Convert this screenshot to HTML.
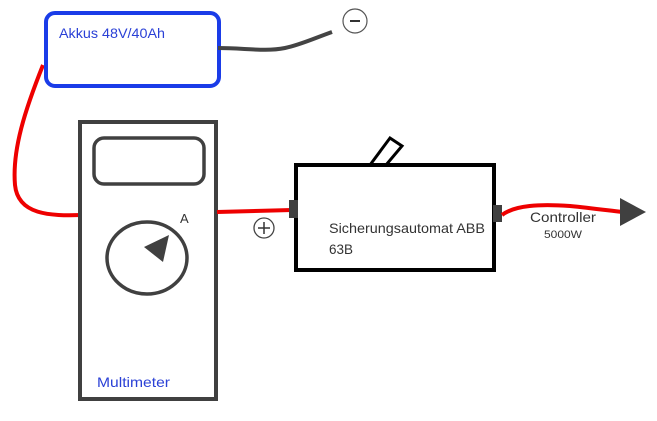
<!DOCTYPE html>
<html><head><meta charset="utf-8"><style>
html,body{margin:0;padding:0;background:#fff;}
svg{display:block;}
text{font-family:"Liberation Sans",sans-serif;}
</style></head><body>
<svg width="657" height="421" viewBox="0 0 657 421" xmlns="http://www.w3.org/2000/svg">
<rect x="0" y="0" width="657" height="421" fill="#fff"/>
<path d="M43,65 C25,110 12,150 15,185 C18,215 50,216 82,215" fill="none" stroke="#ee0000" stroke-width="4"/>
<rect x="46" y="13" width="173" height="73" rx="9" fill="#fff" stroke="#1a3ce8" stroke-width="4"/>
<text x="59" y="38" font-size="14" fill="#2a40d6" textLength="106" lengthAdjust="spacingAndGlyphs">Akkus 48V/40Ah</text>
<path d="M218,48 C245,48 265,52 285,48 C300,45 315,38 332,32" fill="none" stroke="#444" stroke-width="4"/>
<circle cx="355" cy="21" r="12" fill="#fff" stroke="#555" stroke-width="1.2"/>
<line x1="350" y1="21" x2="360" y2="21" stroke="#333" stroke-width="2"/>
<rect x="80" y="122" width="136" height="277" fill="#fff" stroke="#404040" stroke-width="4"/>
<rect x="94" y="138" width="110" height="46" rx="10" fill="#fff" stroke="#404040" stroke-width="3.5"/>
<ellipse cx="147" cy="258" rx="40" ry="36" fill="#fff" stroke="#404040" stroke-width="3.5"/>
<polygon points="169,235 144,247 163,262" fill="#404040"/>
<text x="180" y="223" font-size="13" fill="#333">A</text>
<text x="97" y="387" font-size="14" fill="#2a40d6" textLength="73" lengthAdjust="spacingAndGlyphs">Multimeter</text>
<line x1="217" y1="212" x2="292" y2="210" stroke="#ee0000" stroke-width="4"/>
<circle cx="264" cy="228" r="10" fill="#fff" stroke="#444" stroke-width="1.3"/>
<line x1="258" y1="228" x2="270" y2="228" stroke="#333" stroke-width="1.5"/>
<line x1="264" y1="222" x2="264" y2="234" stroke="#333" stroke-width="1.5"/>
<polygon points="370,165 390,138 402,146 386,165" fill="#fff" stroke="#000" stroke-width="3"/>
<rect x="296" y="165" width="198" height="105" fill="#fff" stroke="#000" stroke-width="4"/>
<rect x="289" y="200" width="9" height="18" fill="#404040"/>
<rect x="493" y="205" width="9" height="17" fill="#404040"/>
<text x="329" y="233" font-size="14" fill="#333" textLength="156" lengthAdjust="spacingAndGlyphs">Sicherungsautomat ABB</text>
<text x="329" y="254" font-size="14" fill="#333" textLength="24" lengthAdjust="spacingAndGlyphs">63B</text>
<path d="M502,215 C515,205 540,204 570,206 C590,208 605,210 622,212" fill="none" stroke="#ee0000" stroke-width="4"/>
<polygon points="620,198 646,212 620,226" fill="#404040"/>
<text x="530" y="222" font-size="14" fill="#333" textLength="66" lengthAdjust="spacingAndGlyphs">Controller</text>
<text x="544" y="238" font-size="11" fill="#333" textLength="38" lengthAdjust="spacingAndGlyphs">5000W</text>
</svg>
</body></html>
